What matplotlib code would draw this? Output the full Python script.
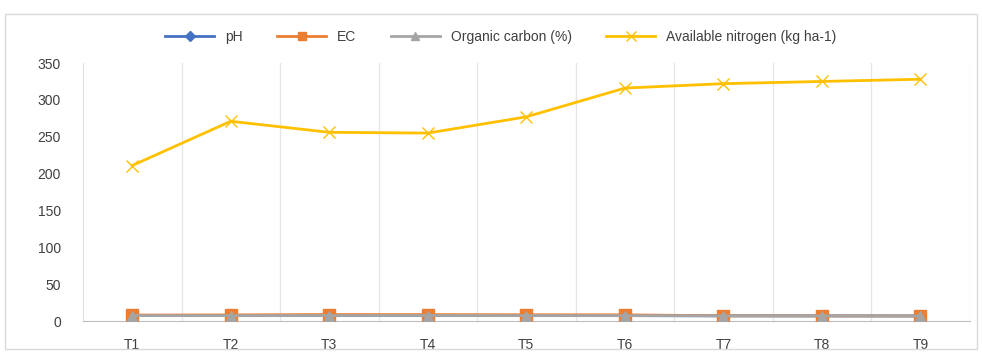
import matplotlib.pyplot as plt
from matplotlib.patches import Rectangle

treatments = ['T1', 'T2', 'T3', 'T4', 'T5', 'T6', 'T7', 'T8', 'T9']
ph = [7.6, 7.5, 7.6, 7.5, 7.5, 7.4, 7.2, 7.1, 7.0]
ec = [8.2, 8.4, 8.9, 8.8, 8.6, 8.5, 7.2, 7.1, 7.0]
org_carbon = [7.5, 7.5, 7.6, 7.6, 7.5, 7.5, 7.1, 7.0, 7.0]
avail_n = [211, 271, 256, 255, 277, 316, 322, 325, 328]

plt.rcParams['font.family'] = ['Liberation Sans', 'DejaVu Sans']

fig = plt.figure(figsize=(9.82, 3.56), dpi=100)
ax = fig.add_axes([0.0845, 0.098, 0.903, 0.725])

x = list(range(1, len(treatments) + 1))
ax.plot(x, ph, color='#4472C4', marker='D', markersize=6, lw=2, label='pH', zorder=3)
ax.plot(x, ec, color='#ED7D31', marker='s', markersize=8, lw=2, label='EC', zorder=3)
ax.plot(x, org_carbon, color='#A5A5A5', marker='^', markersize=7, lw=2, label='Organic carbon (%)', zorder=4)
ax.plot(x, avail_n, color='#FFC000', marker='x', markersize=9, mew=1, lw=2, label='Available nitrogen (kg ha-1)', zorder=3)

ax.set_xlim(0.5, 9.5)
ax.set_ylim(0, 350)
ax.set_yticks(range(0, 351, 50))
ax.set_xticks(x)
ax.set_xticklabels(treatments)
for b in [i + 0.5 for i in range(1, 10)]:
    ax.axvline(b, color='#E6E6E6', lw=0.9, zorder=0)

for s in ['top', 'right']:
    ax.spines[s].set_visible(False)
ax.spines['left'].set_color('#E0E0E0')
ax.spines['bottom'].set_color('#BFBFBF')
ax.tick_params(axis='both', length=0, labelsize=10, colors='#404040')
ax.tick_params(axis='x', pad=12)
ax.tick_params(axis='y', pad=16)

leg = fig.legend(loc='center', bbox_to_anchor=(0.51, 0.897), ncol=4, frameon=False,
                 fontsize=10, handlelength=3.5, columnspacing=2.5, labelcolor='#404040',
                 markerscale=0.8)

fig.patches.append(Rectangle((0.005, 0.02), 0.99, 0.94, transform=fig.transFigure,
                             fill=False, edgecolor='#D9D9D9', lw=1))

fig.savefig('out.png', dpi=100)
